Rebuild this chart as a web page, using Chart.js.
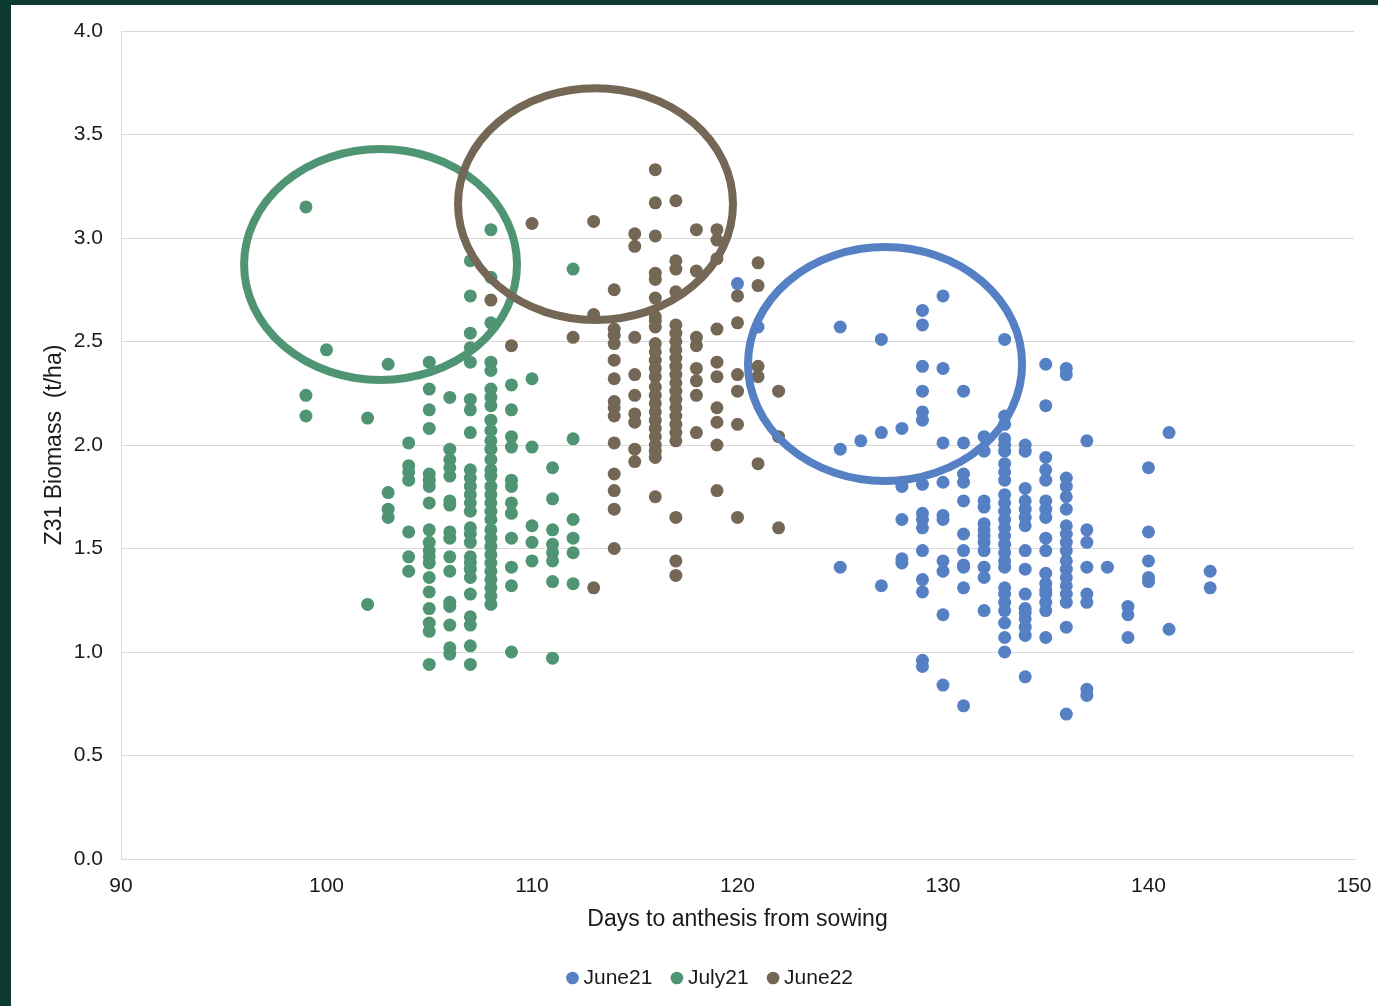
<!DOCTYPE html>
<html>
<head>
<meta charset="utf-8">
<title>Z31 Biomass vs days to anthesis</title>
<script src="https://cdn.jsdelivr.net/npm/chart.js@4.4.1/dist/chart.umd.min.js"></script>
<style>
  html, body { margin: 0; padding: 0; background: #0e3b31; }
  body { width: 1378px; height: 1006px; overflow: hidden; position: relative; }
  #frame { position: absolute; left: 11px; top: 5px; width: 1367px; height: 1001px; background: #ffffff; }
  canvas { display: block; }
</style>
</head>
<body>
<div id="frame"><canvas id="chart" width="1367" height="1001"></canvas></div>
<script>
// ---- Sowing series: days to anthesis (x) and Z31 biomass in t/ha (y) ----
const seriesNames = ['June21', 'July21', 'June22'];

const june21Days = [
  120, 121,
  125, 125, 125,
  126,
  127, 127, 127,
  128, 128, 128, 128, 128, 128,
  129, 129, 129, 129, 129, 129, 129, 129, 129, 129, 129, 129, 129, 129, 129,
  130, 130, 130, 130, 130, 130, 130, 130, 130, 130,
  131, 131, 131, 131, 131, 131, 131, 131, 131, 131, 131,
  132, 132, 132, 132, 132, 132, 132, 132, 132, 132, 132, 132,
  133, 133, 133, 133, 133, 133, 133, 133, 133, 133, 133, 133, 133, 133, 133, 133, 133, 133, 133, 133, 133, 133, 133, 133, 133, 133,
  134, 134, 134, 134, 134, 134, 134, 134, 134, 134, 134, 134, 134, 134, 134, 134,
  135, 135, 135, 135, 135, 135, 135, 135, 135, 135, 135, 135, 135, 135, 135, 135, 135,
  136, 136, 136, 136, 136, 136, 136, 136, 136, 136, 136, 136, 136, 136, 136, 136, 136, 136,
  137, 137, 137, 137, 137, 137, 137, 137,
  138,
  139, 139, 139,
  140, 140, 140, 140, 140,
  141, 141,
  143, 143
];
const june21Biomass = [
  2.78, 2.57,
  2.57, 1.98, 1.41,
  2.02,
  2.51, 2.06, 1.32,
  2.08, 1.82, 1.80, 1.64, 1.45, 1.43,
  2.65, 2.58, 2.38, 2.26, 2.16, 2.12, 1.81, 1.67, 1.64, 1.60, 1.49, 1.35, 1.29, 0.96, 0.93,
  2.72, 2.37, 2.01, 1.82, 1.66, 1.64, 1.44, 1.39, 1.18, 0.84,
  2.26, 2.01, 1.86, 1.82, 1.73, 1.57, 1.49, 1.41, 1.31, 0.74, 1.42,
  2.04, 1.97, 1.73, 1.70, 1.62, 1.59, 1.56, 1.53, 1.49, 1.41, 1.36, 1.20,
  2.51, 2.14, 2.10, 2.03, 2.00, 1.97, 1.91, 1.87, 1.83, 1.76, 1.72, 1.68, 1.64, 1.60, 1.56, 1.52, 1.48, 1.44, 1.41, 1.31, 1.28, 1.24, 1.20, 1.14, 1.07, 1.00,
  2.00, 1.97, 1.79, 1.73, 1.69, 1.65, 1.61, 1.49, 1.40, 1.28, 1.21, 1.19, 1.16, 1.12, 1.08, 0.88,
  2.39, 2.19, 1.94, 1.88, 1.83, 1.73, 1.69, 1.65, 1.55, 1.49, 1.38, 1.33, 1.28, 1.24, 1.20, 1.07, 1.30,
  2.37, 2.34, 1.84, 1.80, 1.75, 1.69, 1.61, 1.57, 1.53, 1.49, 1.44, 1.40, 1.36, 1.32, 1.28, 1.24, 1.12, 0.70,
  2.02, 1.59, 1.53, 1.41, 1.28, 1.24, 0.82, 0.79,
  1.41,
  1.22, 1.18, 1.07,
  1.89, 1.58, 1.44, 1.36, 1.34,
  2.06, 1.11,
  1.39, 1.31
];

const july21Days = [
  99, 99, 99,
  100,
  102, 102,
  103, 103, 103, 103,
  104, 104, 104, 104, 104, 104, 104,
  105, 105, 105, 105, 105, 105, 105, 105, 105, 105, 105, 105, 105, 105, 105, 105, 105, 105, 105,
  106, 106, 106, 106, 106, 106, 106, 106, 106, 106, 106, 106, 106, 106, 106, 106,
  107, 107, 107, 107, 107, 107, 107, 107, 107, 107, 107, 107, 107, 107, 107, 107, 107, 107, 107, 107, 107, 107, 107, 107, 107, 107,
  108, 108, 108, 108, 108, 108, 108, 108, 108, 108, 108, 108, 108, 108, 108, 108, 108, 108, 108, 108, 108, 108, 108, 108, 108, 108, 108, 108, 108, 108,
  109, 109, 109, 109, 109, 109, 109, 109, 109, 109, 109, 109,
  110, 110, 110, 110, 110,
  111, 111, 111, 111, 111, 111, 111, 111,
  112, 112, 112, 112, 112, 112
];
const july21Biomass = [
  3.15, 2.24, 2.14,
  2.46,
  2.13, 1.23,
  2.39, 1.77, 1.69, 1.65,
  2.01, 1.90, 1.87, 1.83, 1.58, 1.46, 1.39,
  2.40, 2.27, 2.17, 2.08, 1.86, 1.83, 1.80, 1.72, 1.59, 1.53, 1.49, 1.46, 1.43, 1.36, 1.29, 1.21, 1.14, 1.10, 0.94,
  2.23, 1.98, 1.93, 1.89, 1.85, 1.73, 1.71, 1.58, 1.55, 1.46, 1.39, 1.24, 1.22, 1.13, 1.02, 0.99,
  2.89, 2.72, 2.54, 2.47, 2.40, 2.22, 2.17, 2.06, 1.88, 1.84, 1.80, 1.76, 1.72, 1.68, 1.60, 1.57, 1.53, 1.46, 1.43, 1.40, 1.36, 1.28, 1.17, 1.13, 1.03, 0.94,
  3.04, 2.81, 2.59, 2.40, 2.36, 2.27, 2.23, 2.19, 2.12, 2.07, 2.02, 1.98, 1.93, 1.88, 1.85, 1.80, 1.76, 1.72, 1.68, 1.64, 1.59, 1.55, 1.51, 1.47, 1.43, 1.39, 1.35, 1.31, 1.27, 1.23,
  2.29, 2.17, 2.04, 1.99, 1.83, 1.80, 1.72, 1.67, 1.55, 1.41, 1.32, 1.00,
  2.32, 1.99, 1.61, 1.53, 1.44,
  1.89, 1.74, 1.59, 1.52, 1.48, 1.44, 1.34, 0.97,
  2.85, 2.03, 1.64, 1.55, 1.48, 1.33
];

const june22Days = [
  108, 109, 110, 112,
  113, 113, 113,
  114, 114, 114, 114, 114, 114, 114, 114, 114, 114, 114, 114, 114, 114,
  115, 115, 115, 115, 115, 115, 115, 115, 115,
  116, 116, 116, 116, 116, 116, 116, 116, 116, 116, 116, 116, 116, 116, 116, 116, 116, 116, 116, 116, 116, 116, 116, 116, 116,
  117, 117, 117, 117, 117, 117, 117, 117, 117, 117, 117, 117, 117, 117, 117, 117, 117, 117, 117, 117, 117, 117,
  118, 118, 118, 118, 118, 118, 118, 118,
  119, 119, 119, 119, 119, 119, 119, 119, 119, 119,
  120, 120, 120, 120, 120, 120,
  121, 121, 121, 121, 121,
  122, 122, 122
];
const june22Biomass = [
  2.70, 2.48, 3.07, 2.52,
  3.08, 2.63, 1.31,
  2.75, 2.56, 2.53, 2.49, 2.41, 2.32, 2.21, 2.18, 2.14, 2.01, 1.86, 1.78, 1.69, 1.50,
  3.02, 2.96, 2.52, 2.34, 2.24, 2.15, 2.11, 1.98, 1.92,
  3.33, 3.17, 3.01, 2.83, 2.80, 2.71, 2.62, 2.57, 2.49, 2.45, 2.41, 2.37, 2.33, 2.28, 2.24, 2.20, 2.16, 2.12, 2.08, 2.04, 2.00, 1.97, 1.94, 1.75, 2.60,
  3.18, 2.89, 2.85, 2.74, 2.58, 2.54, 2.50, 2.46, 2.42, 2.38, 2.34, 2.30, 2.26, 2.22, 2.18, 2.14, 2.10, 2.06, 2.02, 1.65, 1.44, 1.37,
  3.04, 2.84, 2.52, 2.48, 2.37, 2.31, 2.24, 2.06,
  3.04, 2.99, 2.90, 2.56, 2.40, 2.33, 2.18, 2.11, 2.00, 1.78,
  2.72, 2.59, 2.34, 2.26, 2.10, 1.65,
  2.88, 2.77, 2.38, 2.33, 1.91,
  2.26, 2.04, 1.60
];

// Highlight rings around each sowing's upper cluster, in the order
// July21, June22, June21 (data units: days, t/ha)
const ringCentreDays = [102.63, 113.09, 127.18];
const ringCentreBiomass = [2.872, 3.164, 2.391];
const ringRadiusDays = [6.64, 6.69, 6.67];
const ringRadiusBiomass = [0.558, 0.560, 0.565];

const xTicks = [90, 100, 110, 120, 130, 140, 150];
const yTicks = [0, 0.5, 1.0, 1.5, 2.0, 2.5, 3.0, 3.5, 4.0];

const colBlue = '#5680c4';
const colGreen = '#4f9574';
const colBrown = '#746756';

function toPoints(days, biomass) {
  return days.map((d, i) => ({ x: d, y: biomass[i] }));
}

// Rings are stroked on top of the points
const ringPlugin = {
  id: 'clusterRings',
  afterDatasetsDraw(chart) {
    const { ctx, scales: { x, y } } = chart;
    const ringColours = [colGreen, colBrown, colBlue];
    ctx.save();
    ctx.lineWidth = 8;
    ringColours.forEach((colour, r) => {
      const cx = x.getPixelForValue(ringCentreDays[r]);
      const cy = y.getPixelForValue(ringCentreBiomass[r]);
      const rx = Math.abs(x.getPixelForValue(ringCentreDays[r] + ringRadiusDays[r]) - cx);
      const ry = Math.abs(y.getPixelForValue(ringCentreBiomass[r] + ringRadiusBiomass[r]) - cy);
      ctx.strokeStyle = colour;
      ctx.beginPath();
      ctx.ellipse(cx, cy, rx, ry, 0, 0, Math.PI * 2);
      ctx.stroke();
    });
    ctx.restore();
  }
};

// Nudge the centred legend row to sit under the plot's middle
const legendShift = {
  id: 'legendShift',
  afterLayout(chart) {
    if (chart.legend) {
      chart.legend.left += 30;
      chart.legend.right += 30;
    }
  }
};

const tickFont = { family: 'Liberation Sans, Arial, sans-serif', size: 21 };
const titleFont = { family: 'Liberation Sans, Arial, sans-serif', size: 23 };

const pointStyle = (color) => ({
  backgroundColor: color,
  borderColor: color,
  borderWidth: 0,
  pointRadius: 6.5,
  pointHoverRadius: 6.5,
  pointStyle: 'circle'
});

new Chart(document.getElementById('chart'), {
  type: 'scatter',
  data: {
    datasets: [
      Object.assign({ label: seriesNames[0], data: toPoints(june21Days, june21Biomass) }, pointStyle(colBlue)),
      Object.assign({ label: seriesNames[1], data: toPoints(july21Days, july21Biomass) }, pointStyle(colGreen)),
      Object.assign({ label: seriesNames[2], data: toPoints(june22Days, june22Biomass) }, pointStyle(colBrown))
    ]
  },
  options: {
    responsive: false,
    animation: false,
    devicePixelRatio: 1,
    layout: { padding: { left: 0, right: 24, top: 26, bottom: 7.5 } },
    plugins: {
      tooltip: { enabled: false },
      legend: {
        position: 'bottom',
        labels: {
          usePointStyle: true,
          pointStyle: 'circle',
          boxWidth: 1,
          boxHeight: 9,
          padding: 24,
          color: '#1a1a1a',
          font: tickFont
        }
      }
    },
    scales: {
      x: {
        type: 'linear',
        min: xTicks[0],
        max: xTicks[xTicks.length - 1],
        afterBuildTicks(scale) { scale.ticks = xTicks.map(v => ({ value: v })); },
        afterFit(scale) {
          scale.height = 84.5;
          scale.paddingLeft = 0;
          scale.paddingRight = 0;
        },
        grid: { display: false, drawTicks: false },
        border: { display: true, color: '#d9d9d9', width: 1 },
        ticks: { color: '#1a1a1a', font: tickFont, padding: 15, maxRotation: 0 },
        title: {
          display: true,
          text: 'Days to anthesis from sowing',
          color: '#1a1a1a',
          font: titleFont,
          padding: { top: 0, bottom: 10 }
        }
      },
      y: {
        type: 'linear',
        min: yTicks[0],
        max: yTicks[yTicks.length - 1],
        afterBuildTicks(scale) { scale.ticks = yTicks.map(v => ({ value: v })); },
        afterFit(scale) {
          scale.width = 110;
          scale.paddingTop = 0;
          scale.paddingBottom = 0;
        },
        grid: { color: '#d9d9d9', lineWidth: 1, drawTicks: false },
        border: { display: true, color: '#d9d9d9', width: 1 },
        ticks: {
          color: '#1a1a1a',
          font: tickFont,
          padding: 18,
          callback: (v) => Number(v).toFixed(1)
        },
        title: {
          display: true,
          text: 'Z31 Biomass  (t/ha)',
          color: '#1a1a1a',
          font: titleFont,
          padding: { top: 30, bottom: 0 }
        }
      }
    }
  },
  plugins: [ringPlugin, legendShift]
});
</script>
</body>
</html>
